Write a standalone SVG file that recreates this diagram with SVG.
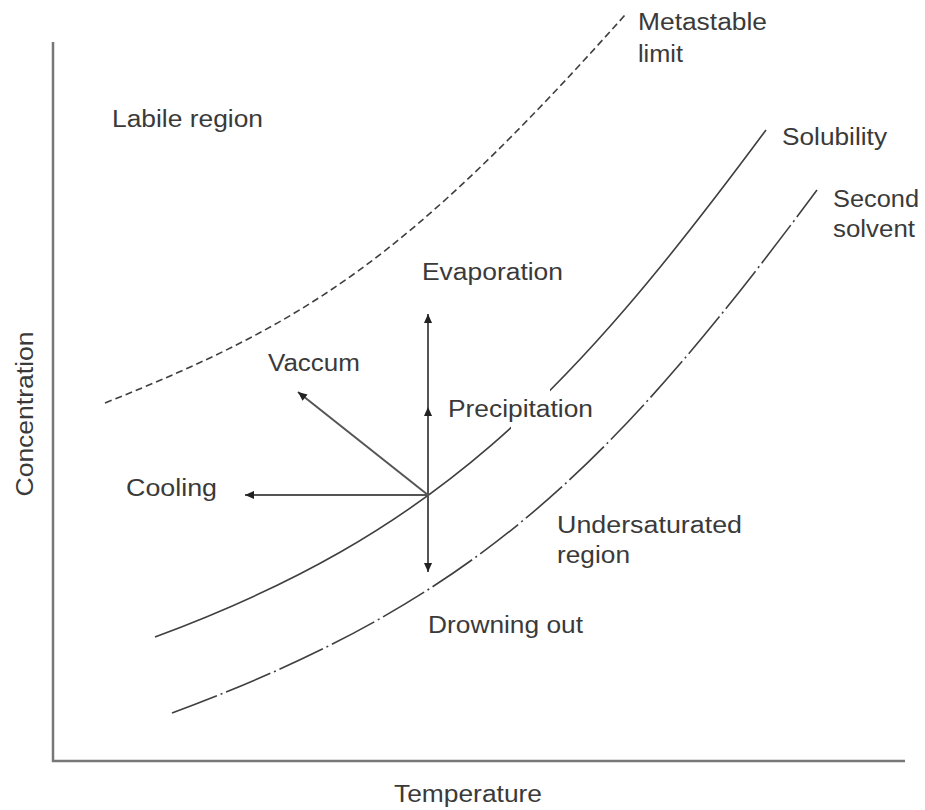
<svg xmlns="http://www.w3.org/2000/svg" width="925" height="810" viewBox="0 0 925 810">
  <style>
    .lbl { font-family: "Liberation Sans", Arial, sans-serif; font-size: 23px; fill: #3a3a3a; }
    .axis { stroke: #777; stroke-width: 2.5; fill: none; }
    .curve { stroke: #3f3f3f; stroke-width: 1.6; fill: none; }
    .meta { stroke-dasharray: 7 4; }
    .second { stroke-dasharray: 48 4 2 4; }
    .arrow { stroke: #555; stroke-width: 2; fill: none; marker-end: url(#ah); }
  </style>
  <defs>
    <marker id="ah" viewBox="0 0 10 10" refX="10" refY="5" markerWidth="10" markerHeight="9" markerUnits="userSpaceOnUse" orient="auto">
      <path d="M0,0.5 L10,5 L0,9.5 z" fill="#222"/>
    </marker>
    <mask id="gap" maskUnits="userSpaceOnUse" x="0" y="0" width="925" height="810">
      <rect x="0" y="0" width="925" height="810" fill="#fff"/>
      <rect x="511" y="384" width="39" height="48" fill="#000"/>
    </mask>
  </defs>
  <rect width="925" height="810" fill="#fff"/>

  <g id="axes">
    <path class="axis" d="M53,42 L53,761 L905,761"/>
    <text class="lbl" x="394" y="802" textLength="148" lengthAdjust="spacingAndGlyphs">Temperature</text>
    <text class="lbl" transform="translate(33,414) rotate(-90)" text-anchor="middle" textLength="165" lengthAdjust="spacingAndGlyphs">Concentration</text>
  </g>

  <g id="metastable-limit">
    <path class="curve meta" d="M105,403 C305,323 405,261.4 625,15"/>
    <text class="lbl" x="638" y="30" textLength="129" lengthAdjust="spacingAndGlyphs">Metastable</text>
    <text class="lbl" x="638" y="62" textLength="45" lengthAdjust="spacingAndGlyphs">limit</text>
  </g>

  <g id="solubility">
    <path class="curve" mask="url(#gap)" d="M155,637 C435,533.4 566,400 766,130"/>
    <text class="lbl" x="782" y="145" textLength="105" lengthAdjust="spacingAndGlyphs">Solubility</text>
  </g>

  <g id="second-solvent">
    <path class="curve second" d="M172,713 C472,602 607,473.5 817,190"/>
    <text class="lbl" x="833" y="207" textLength="86" lengthAdjust="spacingAndGlyphs">Second</text>
    <text class="lbl" x="833" y="237" textLength="82" lengthAdjust="spacingAndGlyphs">solvent</text>
  </g>

  <g id="labile-region">
    <text class="lbl" x="112" y="127" textLength="151" lengthAdjust="spacingAndGlyphs">Labile region</text>
  </g>

  <g id="undersaturated-region">
    <text class="lbl" x="557" y="533" textLength="185" lengthAdjust="spacingAndGlyphs">Undersaturated</text>
    <text class="lbl" x="557" y="563" textLength="73" lengthAdjust="spacingAndGlyphs">region</text>
  </g>

  <g id="connectors">
    <path class="arrow" d="M428,495 L428,314"/>
    <path class="arrow" d="M428,495 L428,407"/>
    <path class="arrow" d="M428,495 L428,572"/>
    <path class="arrow" d="M428,495 L245,495"/>
    <path class="arrow" d="M428,495 L298,392"/>
  </g>

  <g id="evaporation"><text class="lbl" x="422" y="280" textLength="141" lengthAdjust="spacingAndGlyphs">Evaporation</text></g>
  <g id="precipitation"><text class="lbl" x="448" y="417" textLength="145" lengthAdjust="spacingAndGlyphs">Precipitation</text></g>
  <g id="vaccum"><text class="lbl" x="268" y="371" textLength="92" lengthAdjust="spacingAndGlyphs">Vaccum</text></g>
  <g id="cooling"><text class="lbl" x="126" y="496" textLength="91" lengthAdjust="spacingAndGlyphs">Cooling</text></g>
  <g id="drowning-out"><text class="lbl" x="428" y="633" textLength="155" lengthAdjust="spacingAndGlyphs">Drowning out</text></g>
</svg>
